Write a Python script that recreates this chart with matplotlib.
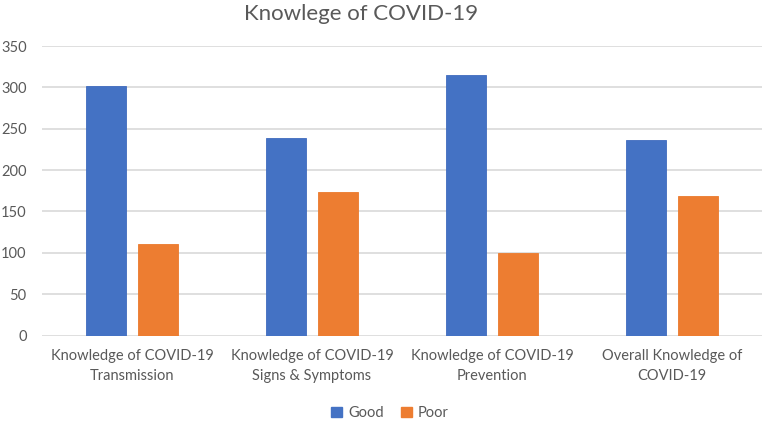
import numpy as np
import matplotlib
matplotlib.use("Agg")
import matplotlib.pyplot as plt
from matplotlib.patches import Patch

plt.rcParams['font.family'] = ['Lato', 'DejaVu Sans']

categories = [
    "Knowledge of COVID-19\nTransmission",
    "Knowledge of COVID-19\nSigns & Symptoms",
    "Knowledge of COVID-19\nPrevention",
    "Overall Knowledge of\nCOVID-19",
]
good = [302, 239, 315, 236]
poor = [111, 174, 100, 169]
y_ticks = [0, 50, 100, 150, 200, 250, 300, 350]
title = "Knowlege of COVID-19"

BLUE = "#4472C4"
ORANGE = "#ED7D31"
TEXT = "#595959"
GRID = "#D9D9D9"


def main():
    fig = plt.figure(figsize=(7.65, 4.22), dpi=100)
    ax = fig.add_axes([42 / 765, 1 - 335.5 / 422, 720 / 765, 289.5 / 422])

    x = np.arange(len(categories))
    w = 0.222
    off = 0.142
    ax.bar(x - off, good, w, color=BLUE, edgecolor="#3F6BBE", linewidth=0.6, zorder=3)
    ax.bar(x + off, poor, w, color=ORANGE, edgecolor="#EB7A2C", linewidth=0.6, zorder=3)

    ax.set_xlim(-0.5, len(categories) - 0.5)
    ax.set_ylim(0, 350)
    ax.set_yticks(y_ticks)
    ax.set_xticks(x)
    ax.set_xticklabels(categories, linespacing=1.5)
    ax.tick_params(axis="both", length=0, colors=TEXT, labelsize=10.5)
    ax.tick_params(axis="y", pad=11)
    ax.tick_params(axis="x", pad=10)
    ax.yaxis.grid(True, color=GRID, linewidth=1.2, zorder=0)
    for s in ax.spines.values():
        s.set_visible(False)

    fig.text(361 / 765, 1 - 14 / 422, title, ha="center", va="center",
             fontsize=16, color=TEXT)

    handles = [Patch(color=BLUE, label="Good"), Patch(color=ORANGE, label="Poor")]
    fig.legend(handles=handles, loc="center", bbox_to_anchor=(390 / 765, 1 - 413 / 422),
               ncol=2, frameon=False, fontsize=10.5, labelcolor=TEXT,
               handlelength=0.75, handleheight=0.75, handletextpad=0.4, columnspacing=1.2)

    fig.savefig("out.png", dpi=100)


if __name__ == "__main__":
    main()
